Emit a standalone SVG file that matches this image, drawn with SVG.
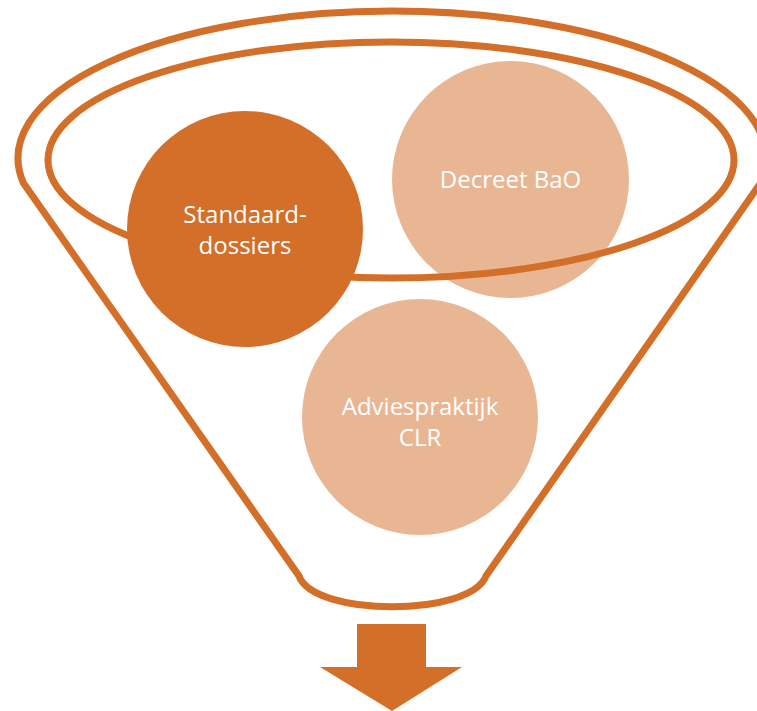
<svg xmlns="http://www.w3.org/2000/svg" width="757" height="711" viewBox="0 0 757 711">
<style>
.line{fill:none;stroke:#D36F28;stroke-width:7}
.dark{fill:#D36F28}
.light{fill:#E9B694}
.lbl{font-family:"Open Sans","Liberation Sans",sans-serif;font-size:24px;fill:#FFFFFF;text-anchor:middle}
</style>
<rect width="757" height="711" fill="#FFFFFF"/>
<g id="funnel">
<path class="line" d="M 23.4,183 A 374 147 0 1 1 760.6,183 L 486,576 C 470,617 314,617 299,576 Z"/>
</g>
<g id="node-decreet">
<circle class="light" cx="510.5" cy="179.5" r="118.5"/>
<text class="lbl" x="510.5" y="188">Decreet BaO</text>
</g>
<g id="node-advies">
<circle class="light" cx="420" cy="417" r="118"/>
<text class="lbl" x="420" y="415">Adviespraktijk</text>
<text class="lbl" x="420" y="446">CLR</text>
</g>
<g id="funnel-rim">
<ellipse class="line" cx="391" cy="160" rx="343" ry="118"/>
</g>
<g id="node-standaard">
<circle class="dark" cx="245" cy="229" r="118"/>
<text class="lbl" x="245" y="223">Standaard-</text>
<text class="lbl" x="245" y="254">dossiers</text>
</g>
<g id="connectors">
<path id="output-arrow" class="dark" d="M 357,624 L 426,624 L 426,667 L 462,667 L 392,711 L 320,667 L 357,667 Z"/>
</g>
</svg>
